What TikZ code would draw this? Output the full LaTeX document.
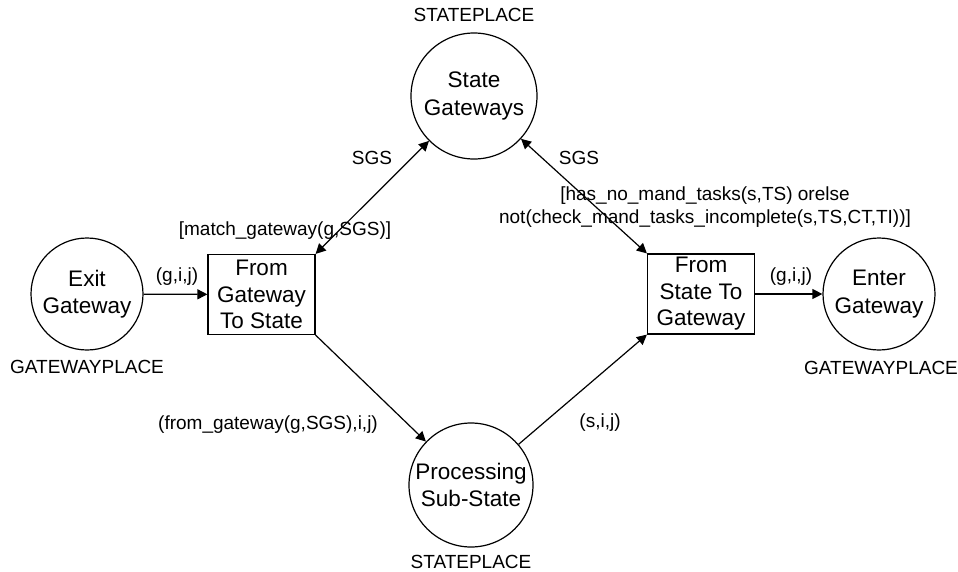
\documentclass[tikz,border=0pt]{standalone}
\usepackage{fontspec}
\setmainfont{Liberation Sans}
\usetikzlibrary{arrows.meta}

\begin{document}
\begin{tikzpicture}[x=1pt,y=-1pt,
    >={Triangle[length=10pt,width=10pt]},
    place/.style={draw, circle, line width=1.2pt, inner sep=0pt, minimum size=112pt,
      align=center, font=\fontsize{22.5}{27.5}\selectfont},
    trans/.style={draw, rectangle, line width=1.2pt, inner sep=0pt, minimum width=107pt,
      minimum height=80pt, align=center, font=\fontsize{22.5}{26.5}\selectfont},
    lbl/.style={inner sep=0pt, align=center, font=\fontsize{19}{23}\selectfont},
    arc/.style={line width=1.2pt}]
  \useasboundingbox (0,0) rectangle (958,571);

  % Places
  \node[place] (exit) at (87,294) {Exit\\Gateway};
  \node[place] (enter) at (879,294) {Enter\\Gateway};
  \node[place, minimum size=126pt] (stgw) at (474,96) {State\\Gateways};
  \node[place, minimum size=124pt] (proc) at (471,485) {Processing\\Sub-State};

  % Transitions
  \node[trans] (gw2st) at (261.5,294.5) {From\\Gateway\\To State};
  \node[trans] (st2gw) at (701,294) {From\\State To\\Gateway};

  % Place types
  \node[lbl] (tstgw) at (474,15) {STATEPLACE};
  \node[lbl] (tproc) at (471,562) {STATEPLACE};
  \node[lbl] (texit) at (87,367) {GATEWAYPLACE};
  \node[lbl] (tenter) at (881,368) {GATEWAYPLACE};

  % Arcs
  \draw[arc, ->] (exit) -- (gw2st);
  \draw[arc, ->] (st2gw) -- (enter);
  \draw[arc, <->] (stgw) -- (gw2st.north east);
  \draw[arc, <->] (stgw) -- (st2gw.north west);
  \draw[arc, ->] (gw2st.south east) -- (proc);
  \draw[arc, ->] (proc) -- (st2gw.south west);

  % Arc inscriptions and guards
  \node[lbl] (iexit) at (177,277) {(g,i,j)};
  \node[lbl] (ienter) at (791,277) {(g,i,j)};
  \node[lbl] (isgl) at (372,158) {SGS};
  \node[lbl] (isgr) at (579,158) {SGS};
  \node[lbl] (gmatch) at (285,231) {[match\_gateway(g,SGS)]};
  \node[lbl] (gmand) at (705,207) {[has\_no\_mand\_tasks(s,TS) orelse\\not(check\_mand\_tasks\_incomplete(s,TS,CT,TI))]};
  \node[lbl] (iproc) at (268,425) {(from\_gateway(g,SGS),i,j)};
  \node[lbl] (iout) at (600,423) {(s,i,j)};
\end{tikzpicture}
\end{document}
